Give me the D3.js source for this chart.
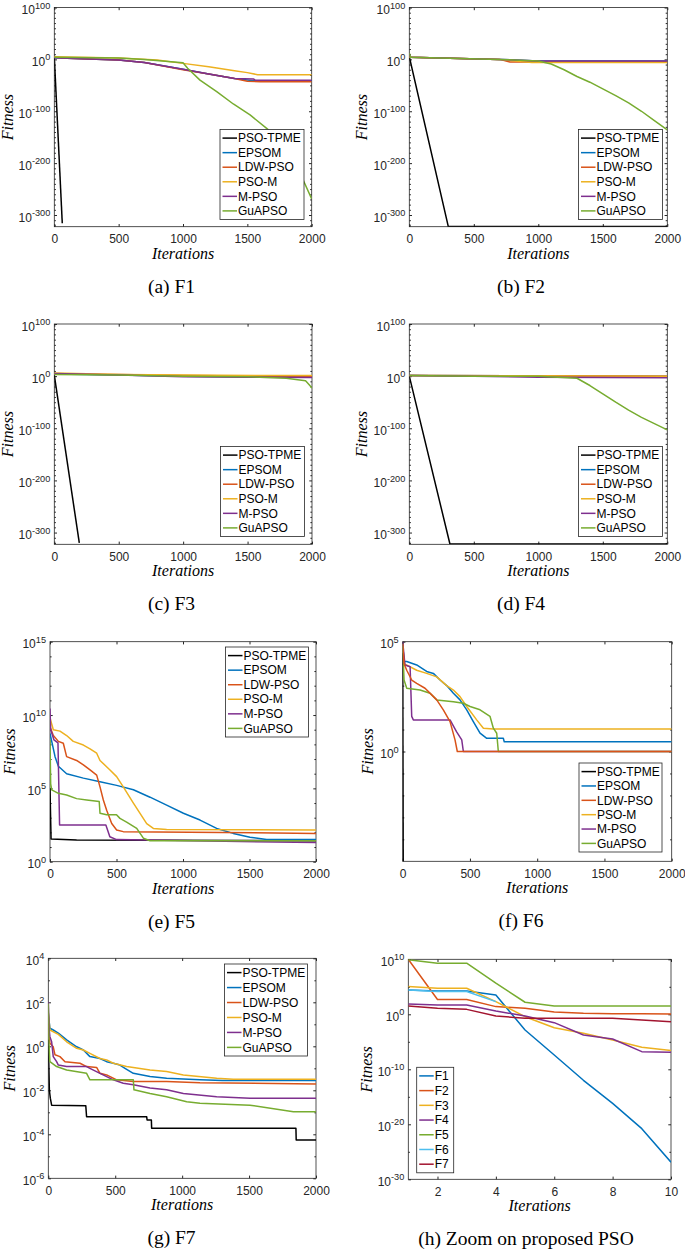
<!DOCTYPE html>
<html><head><meta charset="utf-8">
<script src="https://cdn.jsdelivr.net/npm/d3@7"></script>
<style>body{margin:0;background:#fff} svg{display:block}</style>
</head><body><svg id="fig" width="685" height="1252"></svg>
<script>
// ---------------- DATA ----------------
const algoNames  = ["PSO-TPME","EPSOM","LDW-PSO","PSO-M","M-PSO","GuAPSO"];
const algoColors = ["#000000","#0072BD","#D95319","#EDB120","#7E2F8E","#77AC30"];
const zoomNames  = ["F1","F2","F3","F4","F5","F6","F7"];
const zoomColors = ["#0072BD","#D95319","#EDB120","#7E2F8E","#77AC30","#4DBEEE","#A2142F"];
const captions = ["(a) F1","(b) F2","(c) F3","(d) F4","(e) F5","(f) F6","(g) F7","(h) Zoom on proposed PSO"];
const iterTicks = [0,500,1000,1500,2000];
const zoomIterTicks = [2,4,6,8,10];
const yTicksAD = [1e-300,1e-200,1e-100,1,1e100];
const yTicksE = [1,1e5,1e10,1e15];
const yTicksF = [1,1e5];
const yTicksG = [1e-6,1e-4,1e-2,1,1e2,1e4];
const yTicksH = [1e-30,1e-20,1e-10,1,1e10];

// (a) F1  [iteration, fitness]
const F1_TPME  = [[0,1e5],[62,1e-316]];
const F1_EPSOM = [[0,1e3],[100,1e2],[500,1e-1],[700,1e-6],[1000,1e-19],[1200,1e-28],[1400,1e-37],[1550,1e-41],[2000,1e-41]];
const F1_LDW   = [[0,1e4],[100,1e2],[500,1e-1],[700,1e-6],[1000,1e-20],[1200,1e-28],[1400,1e-37],[1500,1e-42],[1600,1e-43],[2000,1e-43]];
const F1_PSOM  = [[0,1e5],[500,3e2],[800,5e-2],[1000,2e-8],[1200,1e-14],[1400,1e-22],[1500,3e-26],[1580,3e-30],[2000,3e-30]];
const F1_MPSO  = [[0,1e3],[100,1e2],[500,1e-1],[700,1e-6],[1000,1e-19],[1200,1e-28],[1400,1e-37],[1550,1e-38],[1560,1e-40],[2000,1e-40]];
const F1_GuAPSO= [[0,1e4],[500,3e2],[700,1e0],[1000,3e-7],[1036,1e-17],[1132,1e-40],[1262,1e-62],[1391,1e-86],[1521,1e-107],[1650,1e-133],[1780,1e-162],[1857,1e-194],[1909,1e-219],[2000,1e-269]];
// (b) F2
const F2_TPME  = [[0,1e5],[302,1e-322],[2000,1e-322]];
const F2_EPSOM = [[0,1e4],[700,1e0],[1000,1e-3],[2000,1e-3]];
const F2_LDW   = [[0,1e6],[10,1e4],[700,1e0],[780,1e-5],[2000,1e-5]];
const F2_PSOM  = [[0,1e4],[700,1e0],[950,1e-6],[2000,1e-6]];
const F2_MPSO  = [[0,1e11],[10,1e4],[700,1e0],[1000,1e-3],[2000,1e-3]];
const F2_GuAPSO= [[0,1e12],[10,1e4],[700,1e0],[1000,1e-3],[1100,1e-9],[1200,1e-20],[1300,1e-33],[1400,1e-44],[1500,1e-57],[1600,1e-70],[1700,1e-84],[1800,1e-100],[1900,1e-118],[2000,1e-136]];
// (c) F3
const F3_TPME  = [[0,1e2],[194,1e-320]];
const F3_EPSOM = [[0,1e4],[500,1e2],[1000,1e0],[1500,1e-1],[2000,1e-1]];
const F3_LDW   = [[0,1e4],[500,1e3],[1000,1e1],[2000,1e0]];
const F3_PSOM  = [[0,1e6],[500,1e3],[1000,1e2],[2000,1e1]];
const F3_MPSO  = [[0,1e5],[500,1e2],[1000,1e-1],[1500,1e-2],[2000,3e-3]];
const F3_GuAPSO= [[0,1e3],[500,1e2],[1000,1e0],[1500,1e-1],[1800,1e-4],[1950,1e-9],[1980,1e-17],[2000,1e-23]];
// (d) F4
const F4_TPME  = [[0,1e0],[315,1e-322],[2000,1e-322]];
const F4_EPSOM = [[0,1e1],[2000,1e0]];
const F4_LDW   = [[0,1e1],[2000,1e0]];
const F4_PSOM  = [[0,1e1],[2000,1e0]];
const F4_MPSO  = [[0,1e1],[500,1e0],[1000,1e-2],[2000,1e-3]];
const F4_GuAPSO= [[0,1e1],[500,1e0],[1000,1e0],[1300,1e-4],[1400,1e-18],[1500,1e-34],[1600,1e-50],[1700,1e-65],[1800,1e-79],[1900,1e-91],[2000,1e-103]];
// (e) F5
const F5_TPME  = [[0,1e5],[8,35],[200,30],[2000,27]];
const F5_EPSOM = [[0,5.6e8],[38,1.45e7],[63,3.2e6],[125,1e6],[251,5e5],[376,2.8e5],[501,1.6e5],[627,8e4],[752,2.5e4],[877,7.2e3],[1003,2e3],[1128,690],[1253,186],[1378,85],[1504,46],[1629,33],[2000,33]];
const F5_LDW   = [[0,1.6e9],[25,4e8],[63,1.6e8],[100,1.2e8],[125,1.45e7],[200,8e6],[251,4e6],[301,1.8e6],[351,8e5],[376,1.26e5],[401,1.6e4],[426,3.2e3],[464,400],[501,145],[551,112],[2000,85]];
const F5_PSOM  = [[0,6.3e9],[25,1e9],[75,8e8],[125,4e8],[175,1.6e8],[251,9e7],[301,5e7],[351,2.5e7],[376,8e6],[451,1.8e6],[501,6.3e5],[551,1.26e5],[627,1e4],[677,2e3],[727,400],[777,186],[877,158],[2000,145]];
const F5_MPSO  = [[0,2.8e10],[5,1e9],[30,2e8],[60,1.26e8],[72,316],[420,316],[450,50],[500,32],[2000,20]];
const F5_GuAPSO= [[0,2e8],[5,2e5],[13,8e4],[63,4.6e4],[125,3.5e4],[200,2e4],[276,1.6e4],[370,1.26e4],[376,2e3],[426,1.6e3],[500,1.6e3],[526,900],[576,500],[652,186],[702,40],[752,27],[2000,27]];
// (f) F6
const F6_TPME  = [[0,3e4],[4,1e-6]];
const F6_EPSOM = [[0,8e4],[10,1.26e4],[30,1.26e4],[104,8.7e3],[178,4.4e3],[228,3.6e3],[278,1.8e3],[327,1e3],[377,450],[426,224],[476,79],[525,23],[575,6.8],[625,4],[748,4],[755,2.8],[2000,2.8]];
const F6_LDW   = [[0,8e4],[10,1e4],[30,5e3],[67,1.8e3],[104,1.26e3],[166,760],[216,380],[253,224],[302,79],[352,23],[389,3.4],[406,1],[2000,1]];
const F6_PSOM  = [[0,8e4],[10,1e4],[104,5e3],[178,3.6e3],[253,2.5e3],[327,1e3],[377,630],[426,316],[476,112],[550,27.5],[600,11.5],[674,10.5],[2000,10.5]];
const F6_MPSO  = [[0,1e5],[17,8.7e3],[55,7.2e3],[67,40],[79,27.5],[352,27.5],[401,7.9],[439,3.4],[451,1],[2000,1]];
const F6_GuAPSO= [[0,6.3e4],[10,1.8e3],[30,760],[129,630],[203,450],[253,224],[377,186],[451,158],[501,112],[575,79],[649,40],[674,11.5],[699,6.8],[711,1],[2000,1]];
// (g) F7
const F7_TPME  = [[0,2],[8,1e-2],[15,4.4e-3],[25,2.1e-3],[280,2e-3],[286,6.3e-4],[735,6.3e-4],[738,4.5e-4],[770,4.5e-4],[772,1.9e-4],[1850,1.9e-4],[1852,5.5e-5],[2000,5.5e-5]];
const F7_EPSOM = [[0,32],[12,6.6],[37,5.5],[75,4],[137,1.95],[212,0.95],[262,0.68],[311,0.34],[386,0.28],[436,0.2],[486,0.17],[535,0.14],[573,0.1],[635,0.059],[760,0.042],[884,0.035],[1133,0.03],[1300,0.028],[2000,0.028]];
const F7_LDW   = [[0,10],[12,1.38],[37,0.95],[50,0.41],[87,0.34],[125,0.2],[237,0.17],[286,0.12],[361,0.11],[386,0.059],[436,0.05],[511,0.03],[635,0.025],[884,0.025],[1133,0.022],[2000,0.0195]];
const F7_PSOM  = [[0,32],[12,5.5],[75,3.5],[137,1.6],[212,0.81],[262,0.68],[311,0.48],[386,0.28],[436,0.24],[486,0.17],[585,0.12],[760,0.083],[884,0.071],[1009,0.05],[1258,0.035],[1382,0.032],[2000,0.032]];
const F7_MPSO  = [[0,107],[7,5.5],[12,2.75],[25,1.6],[37,0.34],[62,0.2],[75,0.14],[137,0.12],[286,0.12],[311,0.1],[386,0.059],[486,0.03],[560,0.021],[635,0.018],[760,0.0126],[884,0.0105],[1009,0.0072],[1258,0.0051],[1507,0.0044],[2000,0.0044]];
const F7_GuAPSO= [[0,89],[5,1.38],[12,0.2],[62,0.12],[137,0.083],[286,0.059],[311,0.03],[635,0.03],[640,0.0105],[760,0.0072],[884,0.0051],[1034,0.003],[1133,0.0026],[1507,0.0021],[1831,0.00107],[2000,0.00107]];
// (h) zoom on proposed PSO, iterations 1..10
const zoomIter = [1,2,3,4,5,6,7,8,9,10];
const Z_F1 = [2.75e4,1.8e4,1.8e4,3.2e3,1.4e-3,4e-8,1e-12,6.3e-17,1.6e-21,1.26e-27];
const Z_F2 = [1e10,500,500,25,12.6,2.7,1.5,1.26,1.2,1.15];
const Z_F3 = [1.1e5,5.5e4,5.5e4,200,0.37,3.7e-3,3.5e-4,2.1e-5,1e-6,2.5e-7];
const Z_F4 = [76,50,50,4,0.5,0.03,1.7e-4,3.2e-5,1.6e-7,1.2e-7];
const Z_F5 = [8e9,2e9,2e9,4.5e5,155,33,33,33,33,33];
const Z_F6 = [2.75e4,1.35e4,1.35e4,200];
const Z_F7 = [33,12.6,7.9,0.5,0.19,0.19,0.19,0.19,0.093,0.046];

// ---------------- DRAW ----------------
const svg = d3.select("#fig");
svg.append("rect").attr("width",685).attr("height",1252).attr("fill","#fff");
const AX = "#262626";
const SANS = "'Liberation Sans', Arial, Helvetica, sans-serif";
const SERIF = "'Liberation Serif', 'Times New Roman', serif";
const TK = 2.7, TKm = 1.6;

function decades(a,b,step,skip){const r=[];for(let e=a;e<=b;e+=step){if(!skip.includes(e))r.push(Math.pow(10,e));}return r;}

const zipZ = arr => arr.map((v,i)=>[zoomIter[i],v]);
const panels = [
 {key:"a",L:54.3,R:311.7,T:7.5,B:226.7,xd:[0,2000],yd:[3e-323,1e100],xt:iterTicks,yt:yTicksAD,ym:decades(-320,90,10,[-300,-200,-100,0]),
  series:[F1_TPME,F1_EPSOM,F1_LDW,F1_PSOM,F1_MPSO,F1_GuAPSO],names:algoNames,colors:algoColors,
  leg:{x:220,y:129.5,w:84,h:90},fitX:13,capX:171.5},
 {key:"b",L:409.3,R:667.3,T:7.5,B:226.7,xd:[0,2000],yd:[3e-323,1e100],xt:iterTicks,yt:yTicksAD,ym:decades(-320,90,10,[-300,-200,-100,0]),
  series:[F2_TPME,F2_EPSOM,F2_LDW,F2_PSOM,F2_MPSO,F2_GuAPSO],names:algoNames,colors:algoColors,
  leg:{x:578.5,y:129.5,w:84,h:90},fitX:367,capX:521},
 {key:"c",L:54.3,R:312,T:324,B:544.3,xd:[0,2000],yd:[3e-323,1e100],xt:iterTicks,yt:yTicksAD,ym:decades(-320,90,10,[-300,-200,-100,0]),
  series:[F3_TPME,F3_EPSOM,F3_LDW,F3_PSOM,F3_MPSO,F3_GuAPSO],names:algoNames,colors:algoColors,
  leg:{x:220.5,y:446.5,w:84,h:90},fitX:13,capX:171.5},
 {key:"d",L:409.3,R:667.3,T:324,B:544.3,xd:[0,2000],yd:[3e-323,1e100],xt:iterTicks,yt:yTicksAD,ym:decades(-320,90,10,[-300,-200,-100,0]),
  series:[F4_TPME,F4_EPSOM,F4_LDW,F4_PSOM,F4_MPSO,F4_GuAPSO],names:algoNames,colors:algoColors,
  leg:{x:578.5,y:446.5,w:84,h:90},fitX:367,capX:521},
 {key:"e",L:50,R:316,T:641.7,B:861.7,xd:[0,2000],yd:[1,1e15],xt:iterTicks,yt:yTicksE,ym:decades(1,14,1,[5,10]),
  series:[F5_TPME,F5_EPSOM,F5_LDW,F5_PSOM,F5_MPSO,F5_GuAPSO],names:algoNames,colors:algoColors,
  leg:{x:225.5,y:647,w:83,h:90},fitX:15,capX:171.5},
 {key:"f",L:402.7,R:671.7,T:641.7,B:861.3,xd:[0,2000],yd:[1e-5,1e5],xt:iterTicks,yt:yTicksF,ym:decades(-4,4,1,[0]),
  series:[F6_TPME,F6_EPSOM,F6_LDW,F6_PSOM,F6_MPSO,F6_GuAPSO],names:algoNames,colors:algoColors,order:[0,1,3,4,5,2],
  leg:{x:579,y:763,w:83,h:89},fitX:373,capX:521},
 {key:"g",L:48.3,R:316,T:958.3,B:1178.3,xd:[0,2000],yd:[1e-6,1e4],xt:iterTicks,yt:yTicksG,ym:decades(-5,3,2,[]),
  series:[F7_TPME,F7_EPSOM,F7_LDW,F7_PSOM,F7_MPSO,F7_GuAPSO],names:algoNames,colors:algoColors,
  leg:{x:224.5,y:964,w:83,h:92},fitX:15,capX:171.5},
 {key:"h",L:408.3,R:671,T:959.3,B:1179.3,xd:[1,10],yd:[1e-30,1e10],xt:zoomIterTicks,yt:yTicksH,ym:decades(-25,5,10,[]),
  series:[Z_F1,Z_F2,Z_F3,Z_F4,Z_F5,Z_F6,Z_F7].map(zipZ),names:zoomNames,colors:zoomColors,
  leg:{x:416.7,y:1067.3,w:37,h:105.5},fitX:371.7,capX:526}
];

function supLabel(sel){
  sel.each(function(d){
    const e = Math.round(Math.log10(d));
    const t = d3.select(this);
    t.text(null).attr("dy","0.5em");
    t.append("tspan").text("10");
    t.append("tspan").attr("dy",-5.4).attr("font-size",9.2).text(String(e));
  });
}

panels.forEach((p,pi)=>{
  const g = svg.append("g");
  const x = d3.scaleLinear().domain(p.xd).range([p.L,p.R]);
  const y = d3.scaleLog().domain(p.yd).range([p.B,p.T]);
  const cid = "clip"+p.key;
  svg.append("clipPath").attr("id",cid).append("rect")
     .attr("x",p.L).attr("y",p.T).attr("width",p.R-p.L).attr("height",p.B-p.T);
  // box and ticks (below the data, as in the original)
  g.append("rect").attr("x",p.L).attr("y",p.T).attr("width",p.R-p.L).attr("height",p.B-p.T)
   .attr("fill","none").attr("stroke",AX).attr("stroke-width",0.8);
  const styleAx = s => s.attr("color",AX).attr("font-size",12).attr("font-family",SANS).call(s=>s.select(".domain").remove());
  g.append("g").attr("transform",`translate(0,${p.B})`)
   .call(d3.axisBottom(x).tickValues(p.xt).tickFormat(d3.format("d")).tickSizeInner(-TK).tickSizeOuter(0).tickPadding(8)).call(styleAx);
  g.append("g").attr("transform",`translate(0,${p.T})`)
   .call(d3.axisTop(x).tickValues(p.xt).tickSizeInner(-TK).tickSizeOuter(0).tickFormat("")).call(styleAx);
  const gl = g.append("g").attr("transform",`translate(${p.L},0)`)
   .call(d3.axisLeft(y).tickValues(p.yt).tickSizeInner(-TK).tickSizeOuter(0).tickPadding(4)).call(styleAx);
  gl.selectAll(".tick text").call(supLabel);
  g.append("g").attr("transform",`translate(${p.R},0)`)
   .call(d3.axisRight(y).tickValues(p.yt).tickSizeInner(-TK).tickSizeOuter(0).tickFormat("")).call(styleAx);
  g.append("g").attr("transform",`translate(${p.L},0)`)
   .call(d3.axisLeft(y).tickValues(p.ym).tickSizeInner(-TKm).tickSizeOuter(0).tickFormat("")).call(styleAx);
  g.append("g").attr("transform",`translate(${p.R},0)`)
   .call(d3.axisRight(y).tickValues(p.ym).tickSizeInner(-TKm).tickSizeOuter(0).tickFormat("")).call(styleAx);
  // data lines
  const line = d3.line().x(d=>x(d[0])).y(d=>y(d[1]));
  const lg = g.append("g").attr("clip-path",`url(#${cid})`);
  const order = p.order || p.series.map((_,i)=>i);
  order.forEach(i=>{
    lg.append("path").datum(p.series[i]).attr("d",line).attr("fill","none")
      .attr("stroke",p.colors[i]).attr("stroke-width",1.5).attr("stroke-linejoin","round");
  });
  // labels
  g.append("text").attr("x",(p.L+p.R)/2).attr("y",p.B+32).attr("text-anchor","middle")
   .attr("font-family",SERIF).attr("font-style","italic").attr("font-size",16).attr("fill","#000").text("Iterations");
  g.append("text").attr("transform",`translate(${p.fitX},${(p.T+p.B)/2}) rotate(-90)`).attr("text-anchor","middle")
   .attr("font-family",SERIF).attr("font-style","italic").attr("font-size",16).attr("fill","#000").text("Fitness");
  g.append("text").attr("x",p.capX).attr("y",p.B+66).attr("text-anchor","middle")
   .attr("font-family",SERIF).attr("font-size",19.5).attr("fill","#000").text(captions[pi]);
  // legend
  const L = p.leg;
  const lgd = g.append("g");
  lgd.append("rect").attr("x",L.x).attr("y",L.y).attr("width",L.w).attr("height",L.h)
     .attr("fill","#fff").attr("stroke",AX).attr("stroke-width",0.8);
  const n = p.names.length, pad = 8.6, step = (L.h-2*pad)/(n-1);
  p.names.forEach((nm,i)=>{
    const cy = L.y+pad+i*step;
    lgd.append("line").attr("x1",L.x+2.5).attr("x2",L.x+17).attr("y1",cy).attr("y2",cy)
       .attr("stroke",p.colors[i]).attr("stroke-width",1.5);
    lgd.append("text").attr("x",L.x+18).attr("y",cy+4.2).attr("font-family",SANS).attr("font-size",12)
       .attr("fill","#000").text(nm);
  });
});
</script></body></html>
